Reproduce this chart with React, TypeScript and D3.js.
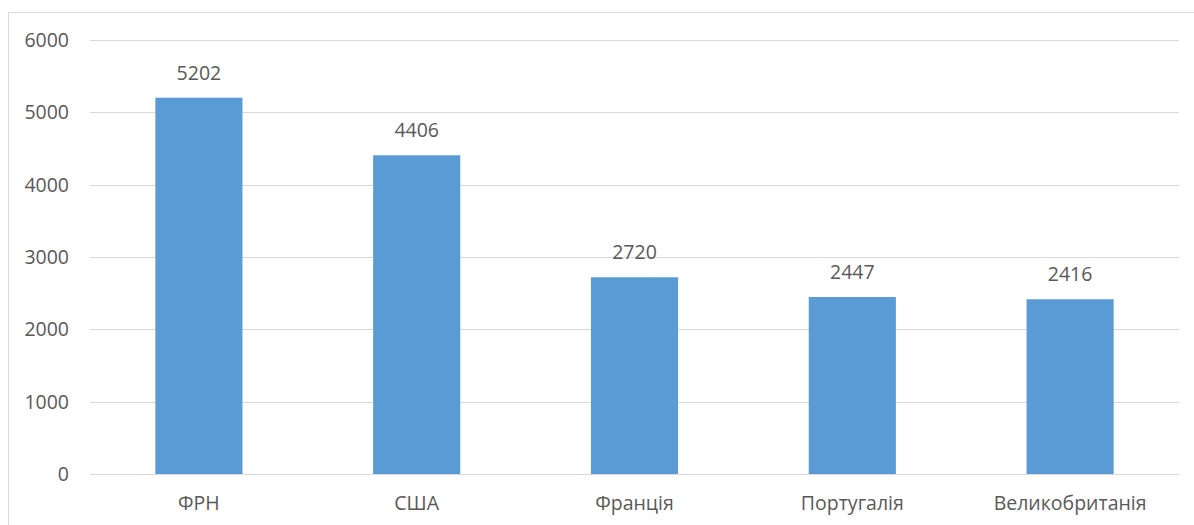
import { useMemo } from "react"
import * as d3 from "d3"

const categories = ["ФРН", "США", "Франція", "Португалія", "Великобританія"]
const values = [5202, 4406, 2720, 2447, 2416]
const yTicks = [0, 1000, 2000, 3000, 4000, 5000, 6000]

const width = 1194
const height = 525
const margin = { top: 40, right: 15, bottom: 51, left: 90 }
const barColor = "#5b9bd5"
const textColor = "#595959"
const gridColor = "#d9d9d9"
const font = "'Open Sans', 'Liberation Sans', sans-serif"
const fontSize = 19.5

export default function App() {
  const innerWidth = width - margin.left - margin.right
  const innerHeight = height - margin.top - margin.bottom

  const x = useMemo(
    () => d3.scaleBand<string>().domain(categories).range([0, innerWidth]).paddingInner(0.6).paddingOuter(0.3),
    [innerWidth],
  )
  const y = useMemo(() => d3.scaleLinear().domain([0, 6000]).range([innerHeight, 0]), [innerHeight])

  return (
    <svg
      width={width}
      height={height}
      style={{ position: "absolute", left: 0, top: 0, display: "block", background: "#fff" }}
      fontFamily={font}
    >
      {/* chart frame */}
      <rect x={8.5} y={12.5} width={1200} height={520} fill="none" stroke={gridColor} strokeWidth={1} />
      <g transform={`translate(${margin.left},${margin.top})`}>
        {/* grid + y labels */}
        {yTicks.map((t) => (
          <g key={t} transform={`translate(0,${Math.round(y(t)) + 0.5})`}>
            <line x1={0} x2={innerWidth} stroke={gridColor} strokeWidth={1} />
            <text x={-21} dy="0.35em" textAnchor="end" fontSize={fontSize} fill={textColor}>
              {t}
            </text>
          </g>
        ))}
        {/* bars */}
        {categories.map((c, i) => (
          <g key={c}>
            <rect x={x(c)} y={y(values[i])} width={x.bandwidth()} height={innerHeight - y(values[i])} fill={barColor} />
            <text
              x={(x(c) as number) + x.bandwidth() / 2}
              y={y(values[i]) - 18}
              textAnchor="middle"
              fontSize={fontSize}
              fill={textColor}
            >
              {values[i]}
            </text>
            <text
              x={(x(c) as number) + x.bandwidth() / 2}
              y={innerHeight + 36}
              textAnchor="middle"
              fontSize={fontSize}
              fill={textColor}
            >
              {c}
            </text>
          </g>
        ))}
      </g>
    </svg>
  )
}
